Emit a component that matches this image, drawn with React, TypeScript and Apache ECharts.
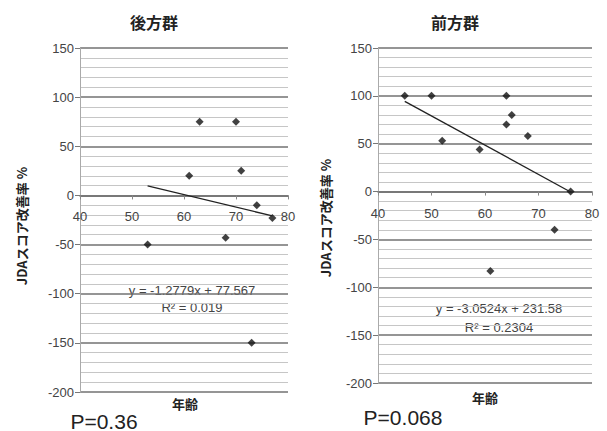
import React, { useEffect, useRef } from "react";
import * as echarts from "echarts";

// 後方群 (posterior group)
const leftAges = [53, 61, 63, 68, 70, 71, 73, 74, 77];
const leftRates = [-50, 20, 75, -43, 75, 25, -150, -10, -23];
const leftSlope = -1.2779;
const leftIntercept = 77.567;
const leftRange = [53, 77];
const leftEq = "y = -1.2779x + 77.567";
const leftR2 = "R² = 0.019";
const leftP = "P=0.36";

// 前方群 (anterior group)
const rightAges = [45, 50, 52, 59, 61, 64, 64, 65, 68, 73, 76];
const rightRates = [100, 100, 53, 44, -83, 100, 70, 80, 58, -40, 0];
const rightSlope = -3.0524;
const rightIntercept = 231.58;
const rightRange = [45, 76];
const rightEq = "y = -3.0524x + 231.58";
const rightR2 = "R² = 0.2304";
const rightP = "P=0.068";

const titles = ["後方群", "前方群"];
const yName = "JDAスコア改善率 %";
const xName = "年齢";

const Y_MIN = -200;
const Y_MAX = 150;

const FONT = "'Liberation Sans', Arial, sans-serif";
const CJK = "'Noto Sans CJK JP', sans-serif";

const grids = [
  { left: 80, top: 48, width: 208, height: 344 },
  { left: 378, top: 48, width: 214, height: 335 },
];

function xAxisCfg(gridIndex: number) {
  const g = grids[gridIndex];
  // place the axis where y = 0 falls inside the grid
  const zeroFromBottom = (g.height * (0 - Y_MIN)) / (Y_MAX - Y_MIN);
  return {
    gridIndex,
    type: "value",
    position: "bottom",
    offset: -zeroFromBottom,
    min: 40,
    max: 80,
    interval: 10,
    axisLine: { show: true, onZero: false, lineStyle: { color: "#6f6f6f", width: 1.5 } },
    axisTick: { show: true, length: 4, lineStyle: { color: "#888" } },
    axisLabel: { color: "#444", fontSize: 13, fontFamily: FONT, margin: 15 },
    splitLine: { show: false },
  };
}

function yAxisCfg(gridIndex: number) {
  return {
    gridIndex,
    type: "value",
    min: Y_MIN,
    max: Y_MAX,
    interval: 50,
    axisLine: { show: true, onZero: false, lineStyle: { color: "#aaa", width: 1 } },
    axisTick: { show: true, length: 5, lineStyle: { color: "#777" } },
    axisLabel: { color: "#444", fontSize: 13, fontFamily: FONT, margin: 6 },
    splitLine: { show: true, lineStyle: { color: "#727272", width: 1.5 } },
    minorTick: { show: false, splitNumber: 5 },
    minorSplitLine: { show: true, lineStyle: { color: "#c6c6c6", width: 1 } },
  };
}

function pts(xs: number[], ys: number[]) {
  return xs.map((x, i) => [x, ys[i]]);
}

function trend(slope: number, intercept: number, range: number[]) {
  return range.map((x) => [x, slope * x + intercept]);
}

export default function App() {
  const ref = useRef<HTMLDivElement>(null);
  useEffect(() => {
    document.body.style.margin = "0";
    if (!ref.current) return;
    const chart = echarts.init(ref.current, null, { renderer: "svg" });
    const text = (x: number, y: number, s: string, size: number, opts: any = {}) => ({
      type: "text",
      x,
      y,
      rotation: opts.rotation || 0,
      style: {
        text: s,
        fontSize: size,
        fontFamily: opts.family || FONT,
        fontWeight: opts.bold ? "bold" : "normal",
        fill: opts.color || "#333",
        align: "center",
        verticalAlign: "middle",
      },
    });
    chart.setOption({
      animation: false,
      backgroundColor: "#fff",
      grid: grids,
      xAxis: [xAxisCfg(0), xAxisCfg(1)],
      yAxis: [yAxisCfg(0), yAxisCfg(1)],
      series: [
        {
          type: "scatter",
          xAxisIndex: 0,
          yAxisIndex: 0,
          symbol: "diamond",
          symbolSize: 8,
          itemStyle: { color: "#111" },
          data: pts(leftAges, leftRates),
        },
        {
          type: "line",
          xAxisIndex: 0,
          yAxisIndex: 0,
          symbol: "none",
          lineStyle: { color: "#222", width: 1.3 },
          data: trend(leftSlope, leftIntercept, leftRange),
        },
        {
          type: "scatter",
          xAxisIndex: 1,
          yAxisIndex: 1,
          symbol: "diamond",
          symbolSize: 8,
          itemStyle: { color: "#111" },
          data: pts(rightAges, rightRates),
        },
        {
          type: "line",
          xAxisIndex: 1,
          yAxisIndex: 1,
          symbol: "none",
          lineStyle: { color: "#222", width: 1.3 },
          data: trend(rightSlope, rightIntercept, rightRange),
        },
      ],
      graphic: [
        text(154, 22, titles[0], 16, { bold: true, family: CJK, color: "#222" }),
        text(455, 22, titles[1], 16, { bold: true, family: CJK, color: "#222" }),
        text(21, 226, yName, 13, { bold: true, family: CJK, color: "#222", rotation: Math.PI / 2 }),
        text(325, 218, yName, 13, { bold: true, family: CJK, color: "#222", rotation: Math.PI / 2 }),
        text(185, 403, xName, 13, { bold: true, family: CJK, color: "#222" }),
        text(485, 397, xName, 13, { bold: true, family: CJK, color: "#222" }),
        text(192, 290, leftEq, 13, { color: "#444" }),
        text(192, 307, leftR2, 13, { color: "#444" }),
        text(499, 308, rightEq, 13, { color: "#444" }),
        text(499, 327, rightR2, 13, { color: "#444" }),
        text(104, 421, leftP, 21, { color: "#222" }),
        text(403, 417, rightP, 21, { color: "#222" }),
      ],
    });
    return () => chart.dispose();
  }, []);
  return <div ref={ref} style={{ width: 607, height: 431 }} />;
}
